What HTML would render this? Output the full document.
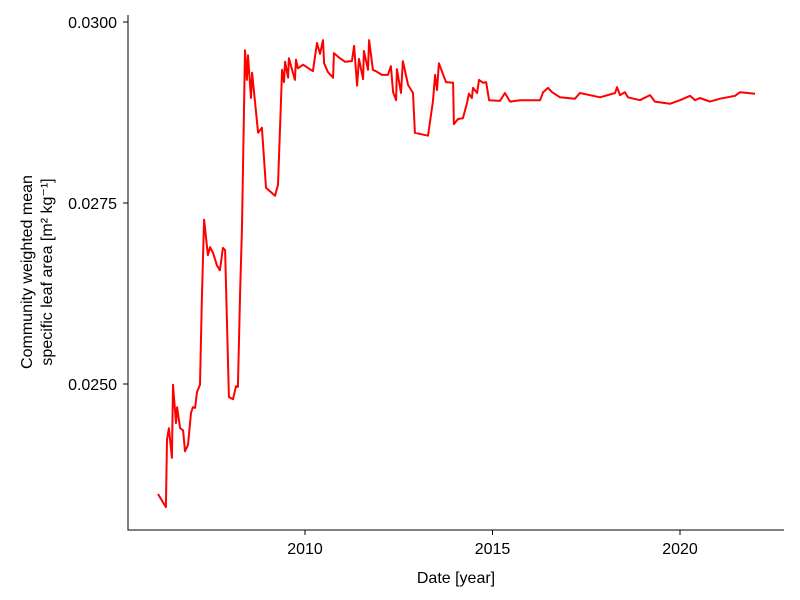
<!DOCTYPE html>
<html><head><meta charset="utf-8"><style>
body{margin:0;background:#fff}
svg{display:block;font-family:"Liberation Sans","DejaVu Sans",sans-serif}
</style></head><body>
<svg id="chart" width="800" height="600">
<g id="axes"></g>
<path id="series" fill="none" stroke="#ff0000" stroke-width="2" stroke-linejoin="round"></path>
<text x="456" y="583" text-anchor="middle" font-size="16">Date [year]</text>
<text transform="translate(32,272) rotate(-90)" text-anchor="middle" font-size="16">Community weighted mean</text>
<text transform="translate(52,272) rotate(-90)" text-anchor="middle" font-size="16">specific leaf area [m² kg⁻¹]</text>
</svg>
<script>
const years=[2006.08,2006.29,2006.32,2006.37,2006.45,2006.48,2006.56,2006.59,2006.67,2006.75,2006.80,2006.88,2006.96,2007.01,2007.07,2007.12,2007.20,2007.25,2007.31,2007.41,2007.47,2007.55,2007.65,2007.73,2007.81,2007.87,2007.97,2008.08,2008.16,2008.21,2008.27,2008.32,2008.40,2008.45,2008.48,2008.56,2008.59,2008.75,2008.85,2008.96,2009.20,2009.28,2009.39,2009.44,2009.47,2009.55,2009.57,2009.73,2009.76,2009.81,2009.95,2010.21,2010.32,2010.40,2010.48,2010.51,2010.61,2010.75,2010.77,2010.93,2011.07,2011.25,2011.31,2011.39,2011.44,2011.55,2011.57,2011.68,2011.71,2011.81,2011.89,2012.05,2012.21,2012.29,2012.35,2012.43,2012.45,2012.56,2012.61,2012.75,2012.88,2012.93,2013.28,2013.41,2013.47,2013.52,2013.57,2013.76,2013.95,2013.97,2014.08,2014.21,2014.32,2014.37,2014.45,2014.48,2014.59,2014.64,2014.75,2014.83,2014.91,2015.20,2015.33,2015.47,2015.73,2016.27,2016.35,2016.48,2016.59,2016.80,2017.20,2017.33,2017.87,2018.27,2018.32,2018.40,2018.53,2018.61,2018.93,2019.20,2019.33,2019.73,2020.00,2020.27,2020.40,2020.53,2020.80,2021.07,2021.47,2021.60,2021.81,2022.00];
const slaValues=[0.02348,0.02330,0.02423,0.02439,0.02398,0.02499,0.02446,0.02468,0.02439,0.02436,0.02407,0.02416,0.02460,0.02468,0.02467,0.02489,0.02499,0.02620,0.02727,0.02678,0.02689,0.02681,0.02664,0.02657,0.02688,0.02685,0.02482,0.02479,0.02497,0.02496,0.02626,0.02717,0.02961,0.02920,0.02954,0.02895,0.02930,0.02847,0.02854,0.02771,0.02760,0.02775,0.02934,0.02917,0.02945,0.02923,0.02950,0.02920,0.02948,0.02936,0.02941,0.02932,0.02971,0.02956,0.02975,0.02943,0.02931,0.02923,0.02957,0.02950,0.02945,0.02946,0.02967,0.02912,0.02949,0.02921,0.02960,0.02934,0.02975,0.02934,0.02932,0.02927,0.02927,0.02939,0.02903,0.02892,0.02935,0.02902,0.02946,0.02913,0.02902,0.02847,0.02843,0.02890,0.02927,0.02906,0.02943,0.02917,0.02916,0.02859,0.02866,0.02867,0.02888,0.02901,0.02895,0.02909,0.02902,0.02920,0.02916,0.02917,0.02892,0.02891,0.02902,0.02890,0.02892,0.02892,0.02903,0.02909,0.02903,0.02896,0.02894,0.02902,0.02896,0.02902,0.02910,0.02899,0.02903,0.02896,0.02892,0.02899,0.02890,0.02887,0.02892,0.02898,0.02892,0.02895,0.02890,0.02894,0.02898,0.02903,0.02902,0.02901];
const xTicks=[2010,2015,2020];
const yTicks=[0.0250,0.0275,0.0300];
const yTickLabels=["0.0250","0.0275","0.0300"];

const xs=y=>305+(y-2010)*37.5;
const ys=v=>22+(0.0300-v)/0.0025*181;
const NS="http://www.w3.org/2000/svg";
const axes=document.getElementById('axes');
function mk(tag,attrs){const e=document.createElementNS(NS,tag);for(const k in attrs)e.setAttribute(k,attrs[k]);axes.appendChild(e);return e;}
let e=mk('line',{x1:128,y1:15,x2:128,y2:530.5,stroke:'#000','stroke-width':1});


e=mk('line',{x1:127.5,y1:530,x2:784,y2:530,stroke:'#000','stroke-width':1});


xTicks.forEach(t=>{
  const x=xs(t);
  let l=mk('line',{x1:x,y1:530,x2:x,y2:535,stroke:'#000'});
  
  
  let tx=mk('text',{x:x,y:554,'text-anchor':'middle','font-size':16});
  tx.textContent=t;
  
  
});
yTicks.forEach((t,i)=>{
  const y=ys(t);
  let l=mk('line',{x1:123,y1:y,x2:128,y2:y,stroke:'#000'});
  
  
  let tx=mk('text',{x:117,y:y+6,'text-anchor':'end','font-size':16});
  tx.textContent=yTickLabels[i];
  
  
});
document.getElementById('series').setAttribute('d',years.map((y,i)=>(i?'L':'M')+xs(y).toFixed(1)+','+ys(slaValues[i]).toFixed(1)).join(''));
</script>
</body></html>
